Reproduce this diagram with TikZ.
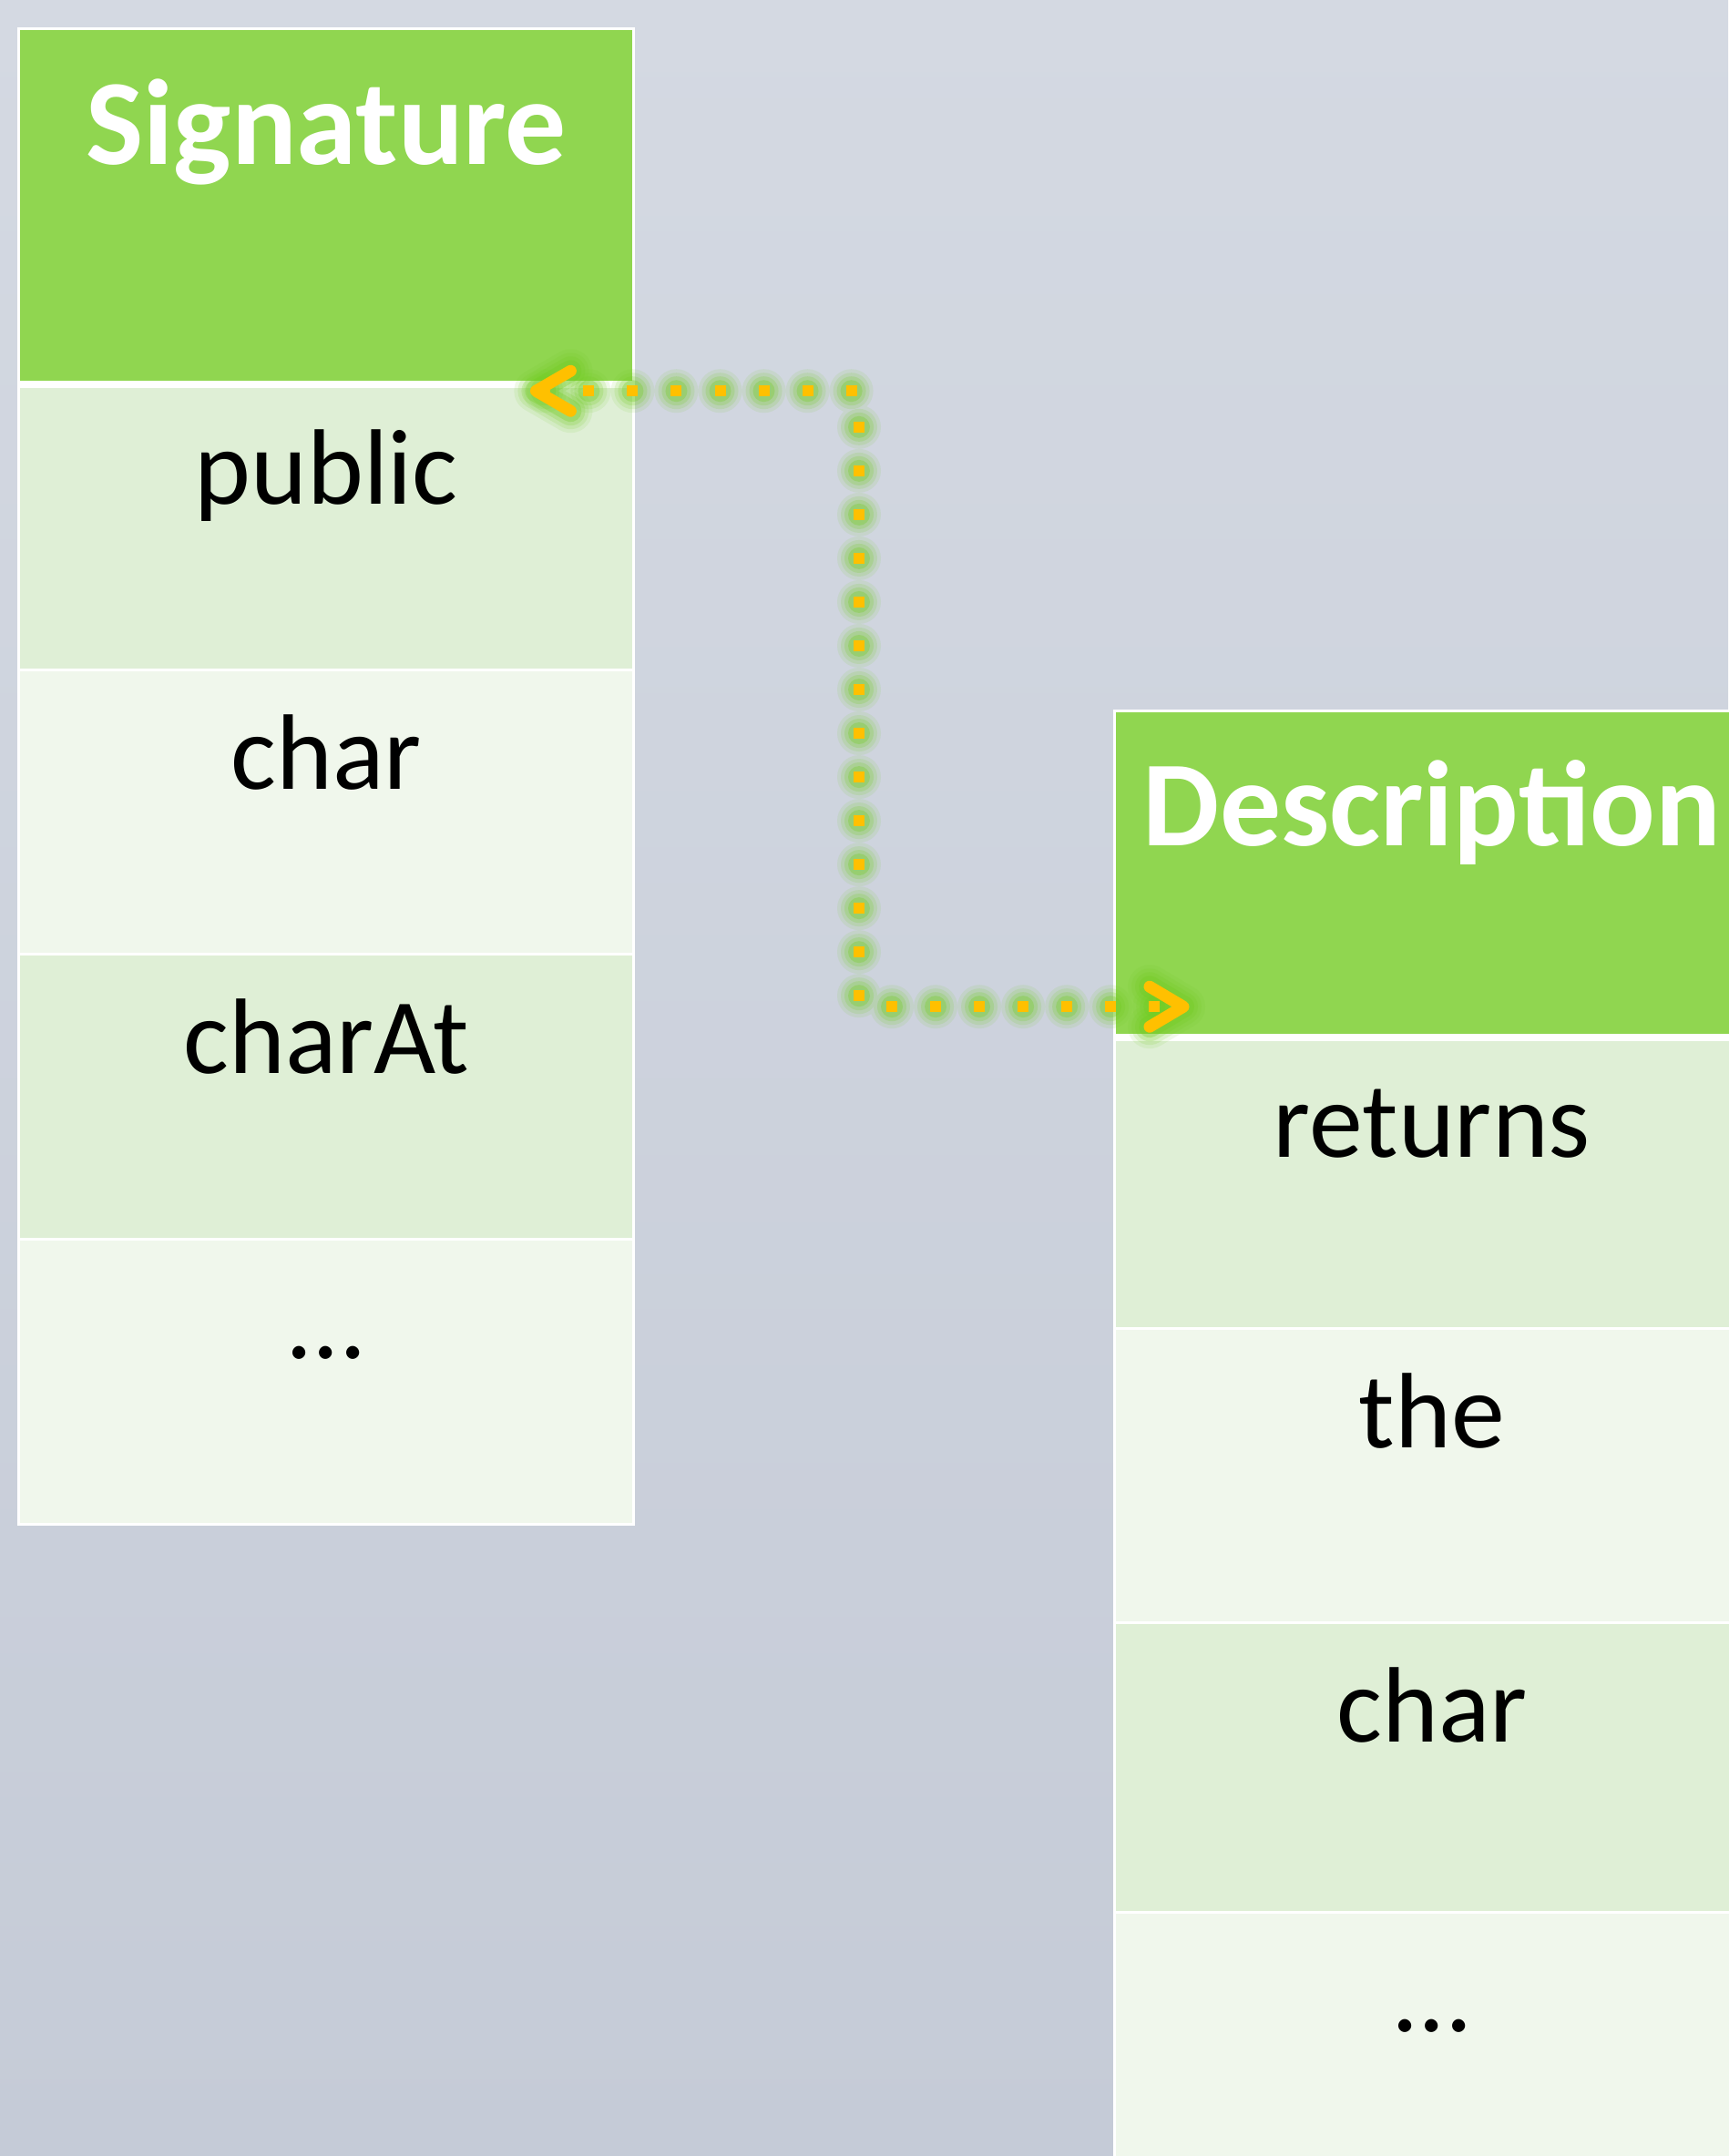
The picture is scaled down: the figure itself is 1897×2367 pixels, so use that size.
\documentclass[tikz,border=0pt]{standalone}
\usepackage{fontspec}
\setmainfont{Carlito}
\definecolor{hdr}{RGB}{144,214,80}
\definecolor{bandA}{RGB}{223,239,214}
\definecolor{bandB}{RGB}{240,247,236}
\definecolor{bgtop}{RGB}{212,217,226}
\definecolor{bgbot}{RGB}{197,203,215}
\definecolor{dotc}{RGB}{255,192,0}
\definecolor{glowc}{RGB}{112,204,32}
\begin{document}
\begin{tikzpicture}[x=0.01cm,y=-0.01cm,
  cell/.style={rectangle, draw=white, line width=0.03cm, inner sep=0, outer sep=0, anchor=north west},
  hcell/.style={cell, fill=hdr},
  acell/.style={cell, fill=bandA},
  bcell/.style={cell, fill=bandB},
  sigw/.style={minimum width=6.749cm},
  descw/.style={minimum width=6.96cm},
  htext/.style={anchor=base, inner sep=0, text=white, font=\fontsize{38}{45}\selectfont\bfseries},
  btext/.style={anchor=base, inner sep=0, text=black, font=\fontsize{33.5}{40}\selectfont},
  headsep/.style={draw=white, line width=0.08cm},
  dotline/.style={draw=dotc, line width=0.12cm, dash pattern=on 0.12cm off 0.36cm, dash phase=0.44cm, line cap=butt, line join=miter},
  glowline/.style={draw=glowc, line cap=round, line join=round, dash pattern=on 0cm off 0.48cm, dash phase=0.38cm},
  tipline/.style={draw=dotc, line width=0.13cm, line cap=round, line join=round},
  tipglow/.style={draw=glowc, line cap=round, line join=round}
  ]
\useasboundingbox (0,0) rectangle (1897,2367);
\shade[top color=bgtop, bottom color=bgbot] (0,0) rectangle (1897,2367);

% Signature table
\node[hcell, sigw, minimum height=3.905cm] (sh) at (20.6,31.5) {};
\node[acell, sigw, minimum height=3.13cm] (s1) at (20.6,422) {};
\node[bcell, sigw, minimum height=3.12cm] (s2) at (20.6,735) {};
\node[acell, sigw, minimum height=3.13cm] (s3) at (20.6,1047) {};
\node[bcell, sigw, minimum height=3.13cm] (s4) at (20.6,1360) {};
\draw[headsep] (sh.south west) -- (sh.south east);

\node[htext] (sht) at ([yshift=-1.485cm]sh.north) {Signature};
\node[btext] (s1t) at ([yshift=-1.31cm]s1.north) {public};
\node[btext] (s2t) at ([yshift=-1.31cm]s2.north) {char};
\node[btext] (s3t) at ([yshift=-1.31cm]s3.north) {charAt};
\node[btext] (s4t) at ([yshift=-1.31cm]s4.north) {…};

% Description table
\node[hcell, descw, minimum height=3.585cm] (dh) at (1223.7,780.5) {};
\node[acell, descw, minimum height=3.19cm] (d1) at (1223.7,1139) {};
\node[bcell, descw, minimum height=3.23cm] (d2) at (1223.7,1458) {};
\node[acell, descw, minimum height=3.18cm] (d3) at (1223.7,1781) {};
\node[bcell, descw, minimum height=3.3cm] (d4) at (1223.7,2099) {};
\draw[headsep] (dh.south west) -- (dh.south east);

\node[htext] (dht) at ([yshift=-1.475cm]dh.north) {Description};
\node[btext] (d1t) at ([yshift=-1.31cm]d1.north) {returns};
\node[btext] (d2t) at ([yshift=-1.31cm]d2.north) {the};
\node[btext] (d3t) at ([yshift=-1.31cm]d3.north) {char};
\node[btext] (d4t) at ([yshift=-1.31cm]d4.north) {…};

% connector
\coordinate (L) at ([shift={(-107.5,7)}]sh.south east);
\coordinate (R) at ([shift={(75.3,-34)}]dh.south west);
\coordinate (K) at (943,760);

\foreach \w/\o in {0.48/0.10,0.40/0.14,0.32/0.2,0.24/0.3}{
  \draw[glowline, line width=\w cm, draw opacity=\o] (L) -| (K) |- (R);
  \draw[tipglow, line width=\w cm, draw opacity=\o] ([shift={(38,-22)}]L) -- (L) -- ([shift={(38,22)}]L);
  \draw[tipglow, line width=\w cm, draw opacity=\o] ([shift={(-37,-22)}]R) -- (R) -- ([shift={(-37,22)}]R);
}
\draw[dotline] (L) -| (K) |- (R);
\draw[tipline] ([shift={(38,-22)}]L) -- (L) -- ([shift={(38,22)}]L);
\draw[tipline] ([shift={(-37,-22)}]R) -- (R) -- ([shift={(-37,22)}]R);
\end{tikzpicture}
\end{document}
